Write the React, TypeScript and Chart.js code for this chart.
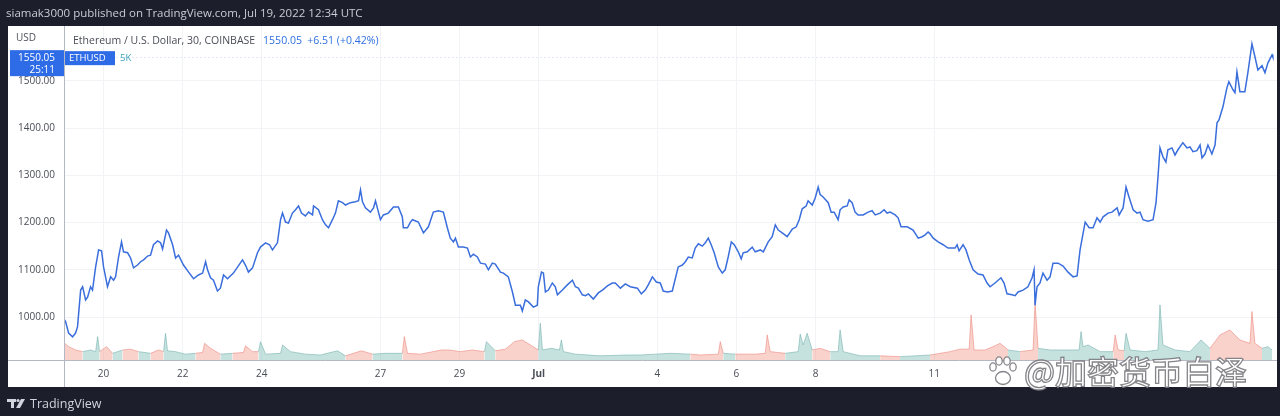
import { useEffect, useRef } from "react";
import { Chart, registerables } from "chart.js";
Chart.register(...registerables);

// ---- Data (hours since 2022-06-19 00:00 UTC) ----
const priceHours = [
  0.4,1.0,2.8,5.2,7.0,8.2,10.1,11.3,13.1,14.3,
  16.1,17.3,19.2,21.0,22.8,24.0,26.4,28.3,30.1,31.3,
  33.1,34.9,36.1,38.6,40.4,42.2,44.6,46.5,48.3,50.7,
  52.5,54.3,56.8,58.6,59.8,62.2,63.4,65.9,67.7,69.5,
  72.5,75.6,78.6,81.6,84.1,85.9,87.1,88.9,90.7,93.1,
  94.9,96.8,99.2,102.8,108.3,110.1,111.9,114.4,117.4,119.2,
  122.3,124.7,
  126.5,129.5,131.4,132.6,134.4,136.2,138.6,140.5,142.3,144.1,
  146.5,148.4,150.8,151.4,154.4,156.8,158.7,160.5,162.9,164.7,
  166.5,169.0,170.8,173.8,176.9,178.7,179.9,181.1,182.9,185.9,
  187.8,189.0,190.8,192.0,193.8,196.8,199.9,202.9,205.3,205.9,
  208.4,210.2,211.4,215.0,218.1,221.1,224.1,227.2,230.2,232.6,
  234.4,236.3,237.5,239.3,242.3,244.8,246.6,
  248.4,250.8,252.7,255.7,257.5,259.9,261.7,264.8,266.6,269.6,
  272.1,273.9,276.9,278.1,279.9,281.8,284.8,287.2,287.8,289.7,
  290.9,292.1,293.9,296.3,298.1,299.4,302.4,305.4,308.5,310.3,
  312.1,314.5,316.4,318.2,321.2,324.2,326.7,329.7,332.7,334.5,
  337.6,340.6,343.6,347.9,350.3,352.7,354.5,357.0,359.4,361.8,
  363.6,366.1,369.1,370.9,372.7,
  375.2,377.0,378.8,381.2,383.0,384.9,387.3,389.1,390.9,392.7,
  394.5,397.0,399.4,401.2,403.0,404.9,406.7,409.1,410.9,412.1,
  414.6,417.6,419.4,422.5,424.3,427.3,429.7,431.6,433.4,435.8,
  438.8,441.9,444.3,446.1,447.9,450.3,451.5,454.0,455.8,457.6,
  458.8,460.6,463.7,465.5,467.3,469.7,470.9,472.8,475.2,476.4,
  478.2,480.0,481.8,484.9,487.9,490.3,492.2,495.2,
  497.6,499.4,501.3,504.3,506.1,507.9,511.6,515.2,518.3,520.7,
  522.5,524.3,525.5,527.4,530.4,533.4,536.4,540.7,541.9,543.1,
  545.5,547.3,549.2,551.6,554.6,557.6,560.1,561.9,564.9,568.5,
  570.4,572.2,575.2,577.1,578.9,581.9,584.9,587.4,588.6,589.2,
  590.4,592.2,594.0,596.5,598.3,600.1,603.2,606.2,609.2,612.3,
  614.7,616.5,618.4,619.6,622.0,
  624.4,626.8,628.7,630.5,633.5,635.9,639.0,640.2,642.6,644.4,
  646.2,648.7,651.1,652.9,654.7,657.7,660.8,662.6,663.8,665.0,
  666.8,668.6,669.8,672.3,674.1,675.9,678.9,681.4,683.2,685.0,
  687.4,689.3,690.5,692.3,694.1,696.5,698.4,699.6,700.8,703.2,
  705.6,706.8,709.3,710.5,711.7,713.5,716.5,718.4,720.8,722.6,
  724.4,726.9,728.7,730.5,733.0,733.5,
];

const prices = [
  994,990,966,958,966,979,1057,1064,1036,1042,
  1064,1057,1106,1142,1140,1106,1064,1085,1078,1085,
  1127,1159,1138,1136,1125,1104,1110,1117,1121,1129,
  1131,1153,1161,1157,1144,1184,1178,1153,1125,1131,
  1110,1095,1081,1089,1093,1117,1100,1083,1078,1055,
  1061,1089,1081,1093,1121,1110,1095,1104,1136,1148,
  1157,1153,
  1142,1157,1206,1220,1201,1199,1220,1227,1235,1220,
  1214,1222,1216,1235,1227,1206,1195,1189,1206,1220,
  1246,1242,1237,1242,1244,1246,1269,1244,1231,1222,
  1231,1246,1222,1206,1216,1220,1233,1233,1212,1189,
  1189,1201,1206,1201,1178,1191,1222,1225,1222,1189,
  1167,1159,1167,1148,1148,1146,1127,
  1133,1127,1114,1112,1100,1114,1112,1095,1093,1085,
  1053,1025,1025,1013,1036,1032,1021,1025,1064,1095,
  1093,1053,1057,1072,1064,1047,1057,1068,1078,1064,
  1061,1047,1045,1049,1038,1051,1057,1066,1072,1072,
  1061,1070,1064,1061,1049,1057,1068,1085,1074,1072,
  1055,1053,1055,1081,1106,
  1110,1117,1127,1125,1146,1155,1150,1157,1167,1153,
  1136,1106,1093,1100,1127,1159,1153,1138,1123,1136,
  1138,1148,1138,1142,1138,1159,1170,1195,1184,1178,
  1170,1186,1191,1206,1229,1235,1246,1237,1252,1275,
  1259,1254,1242,1222,1222,1206,1227,1233,1235,1248,
  1242,1222,1216,1216,1222,1225,1216,1220,
  1227,1220,1222,1216,1210,1191,1191,1184,1167,1170,
  1174,1180,1176,1167,1159,1153,1146,1146,1153,1140,
  1153,1142,1121,1100,1091,1089,1072,1064,1072,1083,
  1072,1049,1047,1045,1053,1057,1064,1083,1100,1025,
  1064,1072,1093,1078,1085,1114,1114,1108,1095,1085,
  1087,1142,1178,1201,1189,
  1189,1210,1201,1212,1220,1222,1231,1216,1231,1275,
  1254,1227,1220,1222,1206,1203,1206,1242,1297,1358,
  1339,1328,1354,1358,1343,1354,1369,1358,1360,1350,
  1352,1364,1337,1345,1364,1345,1364,1411,1417,1445,
  1485,1498,1481,1475,1519,1477,1477,1519,1578,1551,
  1523,1532,1517,1538,1555,1550.05,
];

// Volume (thousand ETH), d = down (red), u = up (teal)
const volHours = [
  0.4,2.8,7.0,11.3,16.1,19.2,20.4,21.6,25.8,29.5,
  35.5,40.4,45.2,52.5,57.4,60.4,61.6,62.8,67.7,73.7,
  79.8,84.1,85.3,88.9,94.9,102.2,108.9,110.1,114.4,118.0,
  119.2,122.3,131.4,132.6,137.4,146.5,155.6,165.9,170.8,180.5,
  187.2,195.0,205.3,206.5,208.4,216.3,229.0,233.9,240.5,247.8,
  255.1,256.3,261.7,267.8,273.3,278.1,283.0,287.8,289.0,290.3,
  295.7,300.6,301.8,303.0,310.3,325.4,341.8,349.7,358.8,367.9,
  380.0,386.1,397.0,398.2,400.0,407.3,419.4,425.5,426.7,428.5,
  437.6,445.5,446.7,448.5,450.9,454.0,458.8,464.9,469.7,470.9,
  472.8,483.1,495.2,507.3,525.5,537.7,543.7,549.2,550.4,552.2,
  558.9,564.9,568.0,572.8,580.1,588.0,589.2,591.0,598.3,610.5,
  615.9,617.1,618.3,621.4,628.7,636.6,637.8,639.6,643.2,644.4,
  646.9,656.0,663.8,665.0,666.8,674.1,683.2,689.9,695.3,701.4,
  707.4,713.5,719.6,720.8,722.6,726.9,730.5,733.0,
];
const volumes = [
  2.0,1.6,1.2,1.0,1.2,1.0,2.8,1.0,1.6,0.8,
  1.2,1.3,1.0,0.8,1.2,1.0,3.2,1.1,1.0,0.7,
  0.8,0.9,2.0,1.4,0.7,0.8,0.9,1.7,1.0,1.0,
  2.2,0.7,0.8,1.8,1.0,0.7,0.6,1.1,0.5,1.1,
  0.7,0.8,0.8,2.8,0.8,0.7,1.2,1.2,1.0,1.2,
  1.0,2.2,1.1,1.3,2.2,2.4,1.8,1.2,4.4,1.2,
  1.4,1.2,2.4,1.0,0.7,0.5,0.6,0.6,0.7,0.8,
  0.7,0.6,0.7,2.2,0.8,0.7,0.7,0.8,3.0,1.0,
  0.8,1.0,3.1,1.8,3.2,1.2,1.4,1.0,1.0,3.6,
  1.0,0.5,0.5,0.4,0.6,1.0,1.3,1.3,5.4,1.2,
  1.2,1.7,2.0,1.2,1.0,1.2,7.0,1.4,1.2,1.2,
  1.2,3.4,1.6,1.8,1.0,1.0,3.0,1.2,1.1,3.2,
  1.2,1.0,1.2,6.6,1.8,1.2,1.0,2.4,1.4,3.0,
  3.6,2.4,2.0,5.8,2.0,1.4,1.6,1.2,
];
const volDirs = [
  "d","d","d","u","u","u","u","u","d","u",
  "u","d","u","u","d","u","u","u","u","d",
  "u","d","d","d","u","u","d","d","d","u",
  "u","u","u","u","u","u","u","u","u","d",
  "u","u","d","d","d","d","d","d","u","d",
  "u","u","u","d","d","d","d","u","u","u",
  "u","u","u","u","u","u","u","u","u","u",
  "d","d","d","d","u","d","d","d","d","d",
  "u","u","u","u","u","u","d","u","u","u",
  "u","u","d","u","u","d","d","d","d","d",
  "d","d","d","u","u","d","d","u","u","u",
  "u","u","u","u","u","d","d","d","u","u",
  "u","u","u","u","u","u","d","u","u","d",
  "d","d","d","d","d","u","u","u",
];

const priceTicks = [1000, 1100, 1200, 1300, 1400, 1500];
const dayTickHours = [24, 72, 120, 192, 240, 288, 360, 408, 456, 528];
const dayTickLabels = ["20", "22", "24", "27", "29", "Jul", "4", "6", "8", "11"];

const lastPrice = 1550.05;
const change = "+6.51 (+0.42%)";

const DARK = "#1c1f2b";
const LINE = "#3a6edc";
const VOL_UP_FILL = "rgba(128,190,184,0.45)";
const VOL_UP_LINE = "rgba(110,175,170,0.7)";
const VOL_DN_FILL = "rgba(242,155,142,0.45)";
const VOL_DN_LINE = "rgba(236,130,118,0.7)";
const FONT = '"Open Sans", "Liberation Sans", sans-serif';

function segDir(c: any) {
  const a = c.p0DataIndex, b = c.p1DataIndex;
  return volumes[a] >= volumes[b] ? volDirs[a] : volDirs[b];
}

const chromePlugin = {
  id: "chrome",
  beforeDraw(chart: any) {
    const { ctx, width, height } = chart;
    ctx.save();
    ctx.fillStyle = DARK;
    ctx.fillRect(0, 0, width, height);
    ctx.fillStyle = "#ffffff";
    ctx.fillRect(8, 26, 1269, 361);
    ctx.restore();
  },
  beforeDatasetsDraw(chart: any) {
    const { ctx, chartArea, scales } = chart;
    const y = Math.round(scales.y.getPixelForValue(lastPrice)) + 0.5;
    ctx.save();
    ctx.strokeStyle = "#e4e9f4";
    ctx.lineWidth = 1;
    ctx.setLineDash([2, 2]);
    ctx.beginPath();
    ctx.moveTo(chartArea.left, y);
    ctx.lineTo(chartArea.right, y);
    ctx.stroke();
    ctx.restore();
  },
  afterDraw(chart: any) {
    const { ctx, chartArea, scales } = chart;
    ctx.save();
    // axis lines
    ctx.strokeStyle = "#b4b8c2";
    ctx.lineWidth = 1;
    ctx.beginPath();
    ctx.moveTo(chartArea.left + 0.5, 26);
    ctx.lineTo(chartArea.left + 0.5, 387);
    ctx.moveTo(8, chartArea.bottom + 0.5);
    ctx.lineTo(1277, chartArea.bottom + 0.5);
    ctx.stroke();

    // top bar text
    ctx.fillStyle = "#c9ccd4";
    ctx.font = `11.5px ${FONT}`;
    ctx.textBaseline = "middle";
    ctx.textAlign = "left";
    ctx.fillText("siamak3000 published on TradingView.com, Jul 19, 2022 12:34 UTC", 6, 14);

    // USD
    ctx.fillStyle = "#50535e";
    ctx.font = `10px ${FONT}`;
    ctx.fillText("USD", 16, 38);

    // header
    ctx.fillStyle = "#4a4d57";
    ctx.font = `10.5px ${FONT}`;
    const title = "Ethereum / U.S. Dollar, 30, COINBASE";
    ctx.fillText(title, 73, 41);
    const tw = ctx.measureText(title).width;
    ctx.fillStyle = "#2f6fe0";
    ctx.fillText(`${lastPrice.toFixed(2)}  ${change}`, 73 + tw + 8, 41);

    // last price tag on axis
    const py = scales.y.getPixelForValue(lastPrice);
    ctx.fillStyle = "#2e6be6";
    ctx.fillRect(10, py - 7, chartArea.left - 10, 26);
    ctx.fillStyle = "#ffffff";
    ctx.font = `10px ${FONT}`;
    ctx.textAlign = "right";
    ctx.fillText(lastPrice.toFixed(2), chartArea.left - 9, py + 1);
    ctx.fillText("25:11", chartArea.left - 9, py + 13);

    // ETHUSD badge
    ctx.fillStyle = "#2e6be6";
    ctx.fillRect(chartArea.left + 1, py - 6, 50, 14);
    ctx.fillStyle = "#ffffff";
    ctx.textAlign = "left";
    ctx.font = `9.5px ${FONT}`;
    ctx.fillText("ETHUSD", chartArea.left + 5, py + 1);
    ctx.fillStyle = "#3aa3b8";
    ctx.fillText("5K", chartArea.left + 56, py + 1);

    // watermark
    const wy = 372;
    ctx.lineWidth = 1.3;
    ctx.strokeStyle = "rgba(120,120,125,0.9)";
    ctx.fillStyle = "rgba(255,255,255,0.95)";
    const pads = [
      [993, 367, 3.2, 4.2],
      [999, 361, 3.2, 4.2],
      [1007, 361, 3.2, 4.2],
      [1013, 367, 3.2, 4.2],
    ];
    for (const [cx, cy, rx, ry] of pads) {
      ctx.beginPath();
      ctx.ellipse(cx, cy, rx, ry, 0, 0, Math.PI * 2);
      ctx.fill();
      ctx.stroke();
    }
    ctx.beginPath();
    ctx.ellipse(1003, 378, 7.5, 6.5, 0, 0, Math.PI * 2);
    ctx.fill();
    ctx.stroke();
    ctx.font = `500 32px "Noto Sans CJK SC", sans-serif`;
    ctx.textBaseline = "middle";
    ctx.textAlign = "left";
    ctx.fillText("@加密货币白泽", 1024, wy);
    ctx.strokeText("@加密货币白泽", 1024, wy);

    // bottom logo
    ctx.fillStyle = "#d1d4dc";
    ctx.fillRect(7, 399, 9, 3);
    ctx.fillRect(11, 399, 3, 9);
    ctx.beginPath();
    ctx.arc(18, 400.5, 1.6, 0, Math.PI * 2);
    ctx.fill();
    ctx.beginPath();
    ctx.moveTo(21, 399);
    ctx.lineTo(25, 399);
    ctx.lineTo(20, 408);
    ctx.lineTo(16, 408);
    ctx.closePath();
    ctx.fill();
    ctx.font = `12.5px ${FONT}`;
    ctx.textBaseline = "middle";
    ctx.fillText("TradingView", 30, 404);
    ctx.restore();
  },
};

export default function App() {
  const ref = useRef<HTMLCanvasElement>(null);
  useEffect(() => {
    document.body.style.margin = "0";
    document.body.style.background = DARK;
    const chart = new Chart(ref.current as HTMLCanvasElement, {
      type: "line",
      data: {
        datasets: [
          {
            label: "ETHUSD",
            data: priceHours.map((h, i) => ({ x: h, y: prices[i] })),
            borderColor: LINE,
            borderWidth: 1.5,
            pointRadius: 0,
            tension: 0,
            fill: false,
            yAxisID: "y",
          },
          {
            label: "Volume",
            data: volHours.map((h, i) => ({ x: h, y: volumes[i] })),
            yAxisID: "yv",
            pointRadius: 0,
            borderWidth: 0.8,
            tension: 0,
            fill: "origin",
            backgroundColor: VOL_UP_FILL,
            borderColor: VOL_UP_LINE,
            segment: {
              backgroundColor: (c: any) => (segDir(c) === "d" ? VOL_DN_FILL : VOL_UP_FILL),
              borderColor: (c: any) => (segDir(c) === "d" ? VOL_DN_LINE : VOL_UP_LINE),
            },
          } as any,
        ],
      },
      options: {
        animation: false,
        responsive: false,
        devicePixelRatio: 1,
        layout: { padding: { left: 8, top: 26, right: 3, bottom: 29 } },
        plugins: { legend: { display: false }, tooltip: { enabled: false } },
        scales: {
          x: {
            type: "linear",
            min: 0,
            max: 736,
            afterBuildTicks: (axis: any) => {
              axis.ticks = dayTickHours.map((v) => ({ value: v }));
            },
            afterFit: (axis: any) => {
              axis.height = 27;
            },
            ticks: {
              autoSkip: false,
              maxRotation: 0,
              padding: 8,
              color: "#4a4d57",
              font: (c: any) => ({
                family: FONT,
                size: 10,
                weight: dayTickLabels[c.index] === "Jul" ? "bold" : "normal",
              }),
              callback: (_v: any, i: number) => dayTickLabels[i],
            },
            grid: { color: "#f1f3f7", drawTicks: false },
            border: { display: false },
          },
          y: {
            type: "linear",
            position: "left",
            min: 909,
            max: 1616,
            afterBuildTicks: (axis: any) => {
              axis.ticks = priceTicks.map((v) => ({ value: v }));
            },
            afterFit: (axis: any) => {
              axis.width = 56;
            },
            ticks: {
              padding: 9,
              color: "#4a4d57",
              font: { family: FONT, size: 10 },
              callback: (v: any) => Number(v).toFixed(2),
            },
            grid: { color: "#f1f3f7", drawTicks: false },
            border: { display: false },
          },
          yv: {
            type: "linear",
            display: false,
            min: 0,
            max: 40,
          },
        },
      },
      plugins: [chromePlugin],
    });
    return () => chart.destroy();
  }, []);
  return (
    <canvas
      ref={ref}
      width={1280}
      height={416}
      style={{ display: "block", width: 1280, height: 416 }}
    />
  );
}
